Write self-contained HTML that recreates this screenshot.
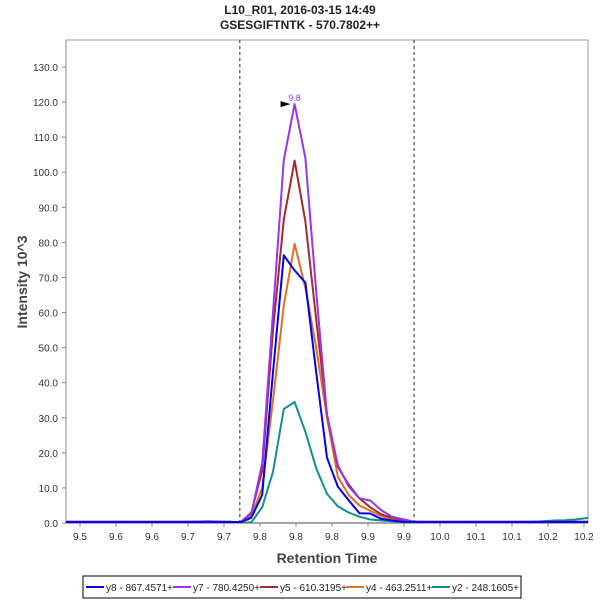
<!DOCTYPE html>
<html><head><meta charset="utf-8"><style>
body{margin:0;background:#fff;font-family:"Liberation Sans",sans-serif;}
svg text{font-family:"Liberation Sans",sans-serif;}
</style></head><body>
<svg id="chart" width="600" height="600">
<rect width="600" height="600" fill="#fff"/>
<text x="300" y="14" text-anchor="middle" font-size="12" font-weight="bold" fill="#222">L10_R01, 2016-03-15 14:49</text>
<text x="300" y="29" text-anchor="middle" font-size="12" font-weight="bold" fill="#222">GSESGIFTNTK - 570.7802++</text>
<text transform="translate(27,282) rotate(-90)" text-anchor="middle" font-size="14" font-weight="bold" fill="#444">Intensity 10^3</text>
<text x="327" y="563" text-anchor="middle" font-size="14" font-weight="bold" fill="#444">Retention Time</text>
<g id="plot"></g>
<g id="legend"></g>
</svg>
<script>
const times=[9.468,9.483,9.498,9.513,9.528,9.543,9.558,9.573,9.588,9.603,9.618,9.633,9.648,9.663,9.678,9.693,9.708,9.723,9.738,9.753,9.768,9.783,9.798,9.813,9.828,9.843,9.858,9.873,9.888,9.903,9.918,9.933,9.948,9.963,9.978,9.993,10.008,10.023,10.038,10.053,10.068,10.083,10.098,10.113,10.128,10.143,10.158,10.173,10.188,10.203,10.218];
const seriesNames=["y8 - 867.4571+","y7 - 780.4250+","y5 - 610.3195+","y4 - 463.2511+","y2 - 248.1605+"];
const y8=[0.3,0.3,0.3,0.3,0.3,0.3,0.3,0.3,0.3,0.3,0.3,0.3,0.3,0.3,0.3,0.3,0.3,0.2,1.5,8,43,76.3,72,68.5,43,18.6,10.4,6.5,2.8,2.7,1.2,0.7,0.3,0.3,0.3,0.3,0.3,0.3,0.3,0.3,0.3,0.3,0.3,0.3,0.3,0.3,0.3,0.3,0.3,0.3,0.3];
const y7=[0.3,0.3,0.3,0.3,0.3,0.3,0.3,0.3,0.3,0.3,0.3,0.3,0.3,0.4,0.5,0.4,0.3,0.1,2.8,17,60,103.5,119.4,104,66,30.8,16.5,10.4,7,6.4,3.7,1.8,1.1,0.4,0.3,0.3,0.3,0.3,0.3,0.3,0.3,0.3,0.3,0.3,0.3,0.3,0.3,0.3,0.3,0.3,0.3];
const y5=[0.3,0.3,0.3,0.3,0.3,0.3,0.3,0.3,0.3,0.3,0.3,0.3,0.3,0.3,0.4,0.3,0.3,0.2,3,15,55,86.5,103.3,85.9,58,31,16,11,7,4.5,2.5,1.5,0.8,0.3,0.3,0.3,0.3,0.3,0.3,0.3,0.3,0.3,0.3,0.3,0.3,0.3,0.3,0.3,0.3,0.3,0.3];
const y4=[0.3,0.3,0.3,0.3,0.3,0.3,0.3,0.3,0.3,0.3,0.3,0.3,0.3,0.3,0.3,0.3,0.3,0.2,2,10,35,62,79.6,67,50,30,13.2,8,5,3.5,2,1,0.5,0.3,0.3,0.3,0.3,0.3,0.3,0.3,0.3,0.3,0.3,0.3,0.3,0.3,0.3,0.3,0.3,0.3,0.3];
const y2=[0.2,0.2,0.2,0.2,0.2,0.2,0.2,0.2,0.2,0.2,0.2,0.2,0.2,0.2,0.2,0.2,0.2,0,0.2,4.5,14.6,32.5,34.5,26,15.6,8.3,4.8,3,1.8,1,0.7,0.5,0.3,0.2,0.2,0.2,0.2,0.2,0.2,0.2,0.2,0.2,0.2,0.2,0.3,0.5,0.7,0.8,1.0,1.4,1.8];
const seriesColors=["#0000ee","#9933ee","#a52a2a","#e07020","#109090"];
const tickValues=[9.50,9.55,9.60,9.65,9.70,9.75,9.80,9.85,9.90,9.95,10.00,10.05,10.10,10.15,10.20];
const tickLabels=["9.5","9.6","9.6","9.7","9.7","9.8","9.8","9.8","9.9","9.9","10.0","10.1","10.1","10.2","10.2"];
const yTicks=[0,10,20,30,40,50,60,70,80,90,100,110,120,130];
const boundaries=[9.722,9.964];
const peakTime=9.798, peakValue=119.4, peakLabel="9.8";

const L=66,R=588,T=40,B=523;
const xs=t=>80+(t-9.5)*720;
const ys=v=>B-v*3.508;
const NS="http://www.w3.org/2000/svg";
const plot=document.getElementById('plot');
function mk(tag,attrs,parent){const e=document.createElementNS(NS,tag);for(const k in attrs)e.setAttribute(k,attrs[k]);(parent||plot).appendChild(e);return e;}
const defs=mk('defs',{});const cp=mk('clipPath',{id:'cp'},defs);mk('rect',{x:L,y:T,width:R-L,height:B-T},cp);
const frame=mk('rect',{x:L,y:T,width:R-L,height:B-T,fill:'none',stroke:'#999','stroke-width':1});


yTicks.forEach(v=>{const y=ys(v);
 mk('line',{x1:L-4,x2:L,y1:y,y2:y,stroke:'#888'});
 const t=mk('text',{x:L-8,y:y+4,'text-anchor':'end','font-size':10,fill:'#333'});t.textContent=v.toFixed(1);
 
 
});
tickValues.forEach((v,i)=>{const x=xs(v);
 mk('line',{x1:x,x2:x,y1:B,y2:B+4,stroke:'#888'});
 const t=mk('text',{x:x,y:B+17,'text-anchor':'middle','font-size':10,fill:'#333'});t.textContent=tickLabels[i];
 
 
});
mk('line',{x1:L,x2:R,y1:B,y2:B,stroke:'#888','stroke-width':1.5});
mk('line',{x1:L,x2:L,y1:T,y2:B,stroke:'#888','stroke-width':1});
boundaries.forEach(b=>{const l=mk('line',{x1:xs(b),x2:xs(b),y1:T,y2:B,stroke:'#222','stroke-dasharray':'3,3'});
 
 
});
const g=mk('g',{'clip-path':'url(#cp)'});
[y8,y7,y5,y4,y2].map((d,i)=>({d,i})).reverse().forEach(({d,i})=>{
 const p=mk('polyline',{points:d.map((v,j)=>xs(times[j]).toFixed(1)+','+ys(v).toFixed(1)).join(' '),fill:'none',stroke:seriesColors[i],'stroke-width':2,'stroke-linejoin':'round'},g);
 
 
});
const px=xs(peakTime),py=ys(peakValue);
const arr=mk('polygon',{points:`${px-4},${py} ${px-14},${py-3} ${px-14},${py+3}`,fill:'#000'});


const pl=mk('text',{x:px,y:py-3,'text-anchor':'middle','font-size':9,fill:'#9933ee'});pl.textContent=peakLabel;


// legend
const lg=document.getElementById('legend');
mk('rect',{x:83,y:576,width:438,height:22,fill:'#fff',stroke:'#000'},lg);
const lx=[86,173,260,346,432];
seriesNames.forEach((n,i)=>{
 const it=mk('g',{},lg);
 
 
 mk('line',{x1:lx[i],x2:lx[i]+18,y1:587,y2:587,stroke:seriesColors[i],'stroke-width':2},it);
 const t=mk('text',{x:lx[i]+20,y:591,'font-size':10,fill:'#222'},it);t.textContent=n;
});
</script>
</body></html>
